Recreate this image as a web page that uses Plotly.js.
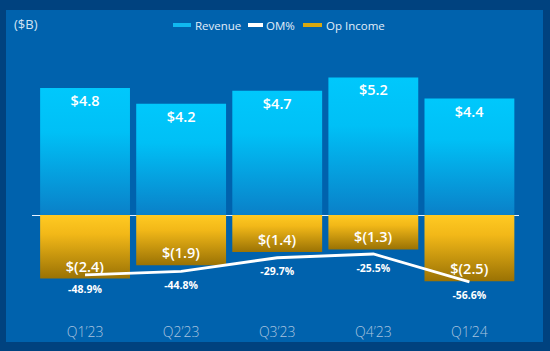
<!DOCTYPE html>
<html>
<head>
<meta charset="utf-8">
<script src="https://cdn.plot.ly/plotly-3.0.1.min.js"></script>
<style>
html,body{margin:0;padding:0;background:#00427f;}
#chart{width:550px;height:351px;}
</style>
</head>
<body>
<div id="chart"></div>
<script>
// ---- data ----
const quarters = ["Q1’23", "Q2’23", "Q3’23", "Q4’23", "Q1’24"];
const revenue = [4.8, 4.2, 4.7, 5.2, 4.4];
const opIncome = [-2.4, -1.9, -1.4, -1.3, -2.5];
const omPct = [-48.9, -44.8, -29.7, -25.5, -56.6];
const legendNames = ["Revenue", "OM%", "Op Income"];

// ---- geometry helpers (plot area in pixels) ----
const W = 550, H = 351;
const L = 32, R = 31, T = 60, B = 51;
const pw = W - L - R, ph = H - T - B;
const px = x => (x - L) / pw;
const py = y => (H - B - y) / ph;

const fmtMoney = v => v < 0 ? "$(" + Math.abs(v).toFixed(1) + ")" : "$" + v.toFixed(1);
const fmtPct = v => v.toFixed(1) + "%";

const traces = [
  {
    type: "bar", name: legendNames[0], x: quarters, y: revenue,
    width: 0.935, showlegend: false,
    marker: {color: "#00b8f0", line: {width: 0}},
    text: revenue.map(fmtMoney), textposition: "inside", insidetextanchor: "end",
    textfont: {color: "#ffffff", size: 14.5, family: "Open Sans, sans-serif", weight: 600},
    hoverinfo: "skip", cliponaxis: false
  },
  {
    type: "bar", name: legendNames[2], x: quarters, y: opIncome,
    width: 0.935, showlegend: false,
    marker: {color: "#d8a810", line: {width: 0}},
    text: opIncome.map(fmtMoney), textposition: "inside", insidetextanchor: "end",
    textfont: {color: "#ffffff", size: 14.5, family: "Open Sans, sans-serif", weight: 600},
    hoverinfo: "skip"
  },
  {
    type: "scatter", name: legendNames[1], x: quarters, y: omPct, yaxis: "y2",
    mode: "lines+markers+text", showlegend: false,
    line: {color: "#ffffff", width: 2.8},
    marker: {size: 14, color: "rgba(0,0,0,0)", line: {width: 0}},
    text: omPct.map(fmtPct), textposition: "bottom center",
    textfont: {color: "#ffffff", size: 10.5, family: "Open Sans, sans-serif", weight: 700},
    hoverinfo: "skip", cliponaxis: false
  }
];

const shapes = [
  {type: "rect", xref: "paper", yref: "paper", layer: "below",
   x0: px(6), x1: px(543), y0: py(342), y1: py(10),
   fillcolor: "#0062ad", line: {width: 0}},
  {type: "rect", xref: "paper", yref: "paper", x0: px(173), x1: px(191), y0: py(27), y1: py(23),
   fillcolor: "#10b8f0", line: {width: 0}},
  {type: "rect", xref: "paper", yref: "paper", x0: px(248), x1: px(263), y0: py(27), y1: py(23),
   fillcolor: "#ffffff", line: {width: 0}},
  {type: "rect", xref: "paper", yref: "paper", x0: px(303), x1: px(322), y0: py(27), y1: py(23),
   fillcolor: "#d8a810", line: {width: 0}}
];

const legFont = {color: "#e2eefa", size: 11.5, family: "Open Sans, sans-serif"};
const annotations = [
  {xref: "paper", yref: "paper", x: px(12), y: py(24.5), xanchor: "left", yanchor: "middle",
   text: "($B)", showarrow: false, font: {color: "#d4e4f4", size: 13, family: "Open Sans, sans-serif"}},
  {xref: "paper", yref: "paper", x: px(193), y: py(25), xanchor: "left", yanchor: "middle",
   text: legendNames[0], showarrow: false, font: legFont},
  {xref: "paper", yref: "paper", x: px(264), y: py(25), xanchor: "left", yanchor: "middle",
   text: legendNames[1], showarrow: false, font: legFont},
  {xref: "paper", yref: "paper", x: px(324), y: py(25), xanchor: "left", yanchor: "middle",
   text: legendNames[2], showarrow: false, font: legFont}
];

const layout = {
  width: W, height: H,
  margin: {l: L, r: R, t: T, b: B, pad: 0},
  paper_bgcolor: "#00427f", plot_bgcolor: "rgba(0,0,0,0)",
  barmode: "overlay", showlegend: false,
  xaxis: {
    type: "category", range: [-0.552, 4.516], showgrid: false, zeroline: false,
    showline: false, ticks: "", ticklabelstandoff: 22,
    tickfont: {color: "#a9c3df", size: 14, family: "Open Sans, sans-serif", weight: 300},
    fixedrange: true
  },
  yaxis: {
    range: [-3.212, 5.858], showgrid: false, showticklabels: false, ticks: "",
    zeroline: true, zerolinecolor: "#e8f2ff", zerolinewidth: 1, fixedrange: true
  },
  yaxis2: {
    overlaying: "y", range: [-76.81, 190.75], visible: false, fixedrange: true
  },
  shapes: shapes, annotations: annotations
};

Plotly.newPlot("chart", traces, layout, {displayModeBar: false, staticPlot: true}).then(gd => {
  const svg = gd.querySelector(".main-svg");
  const ns = "http://www.w3.org/2000/svg";
  let defs = svg.querySelector("defs");
  if (!defs) { defs = document.createElementNS(ns, "defs"); svg.insertBefore(defs, svg.firstChild); }
  function grad(id, stops) {
    const g = document.createElementNS(ns, "linearGradient");
    g.setAttribute("id", id); g.setAttribute("x1", "0"); g.setAttribute("y1", "0");
    g.setAttribute("x2", "0"); g.setAttribute("y2", "1");
    stops.forEach(([o, c]) => {
      const s = document.createElementNS(ns, "stop");
      s.setAttribute("offset", o); s.setAttribute("stop-color", c);
      g.appendChild(s);
    });
    defs.appendChild(g);
  }
  grad("gRev", [["0", "#00c8fc"], ["0.35", "#00c0f6"], ["1", "#0a80c8"]]);
  grad("gOp", [["0", "#ffca22"], ["0.3", "#f2b818"], ["1", "#9a7204"]]);
  const barTraces = gd.querySelectorAll(".barlayer .trace");
  barTraces.forEach((tr, i) => {
    tr.querySelectorAll(".point path").forEach(p => {
      p.style.fill = i === 0 ? "url(#gRev)" : "url(#gOp)";
    });
  });
});
</script>
</body>
</html>
